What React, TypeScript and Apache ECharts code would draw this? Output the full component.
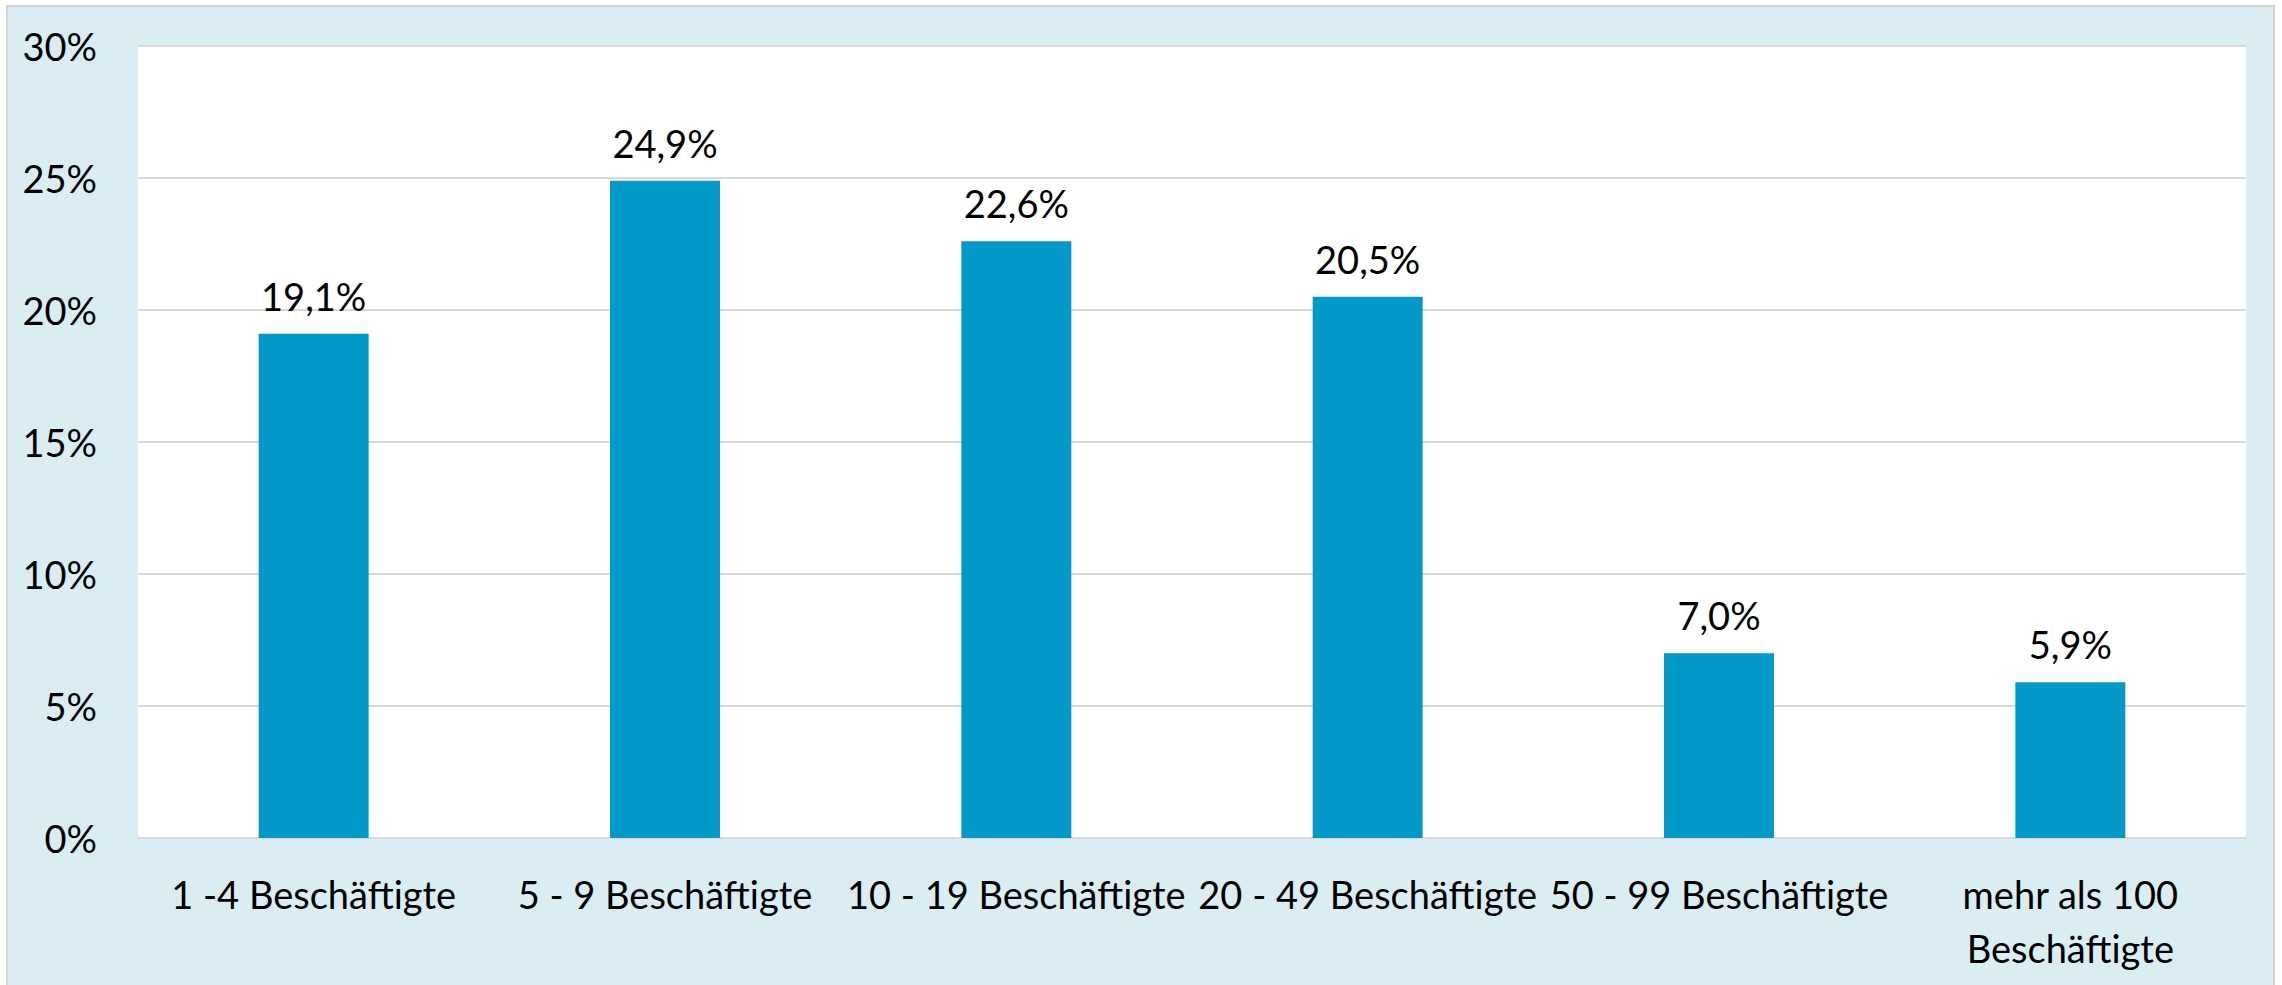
import React, { useEffect, useRef } from "react";
import * as echarts from "echarts";

const categories = [
  "1 -4 Beschäftigte",
  "5 - 9 Beschäftigte",
  "10 - 19 Beschäftigte",
  "20 - 49 Beschäftigte",
  "50 - 99 Beschäftigte",
  "mehr als 100 Beschäftigte",
];
const shares = [19.1, 24.9, 22.6, 20.5, 7.0, 5.9];
const yTicks = [0, 5, 10, 15, 20, 25, 30];

const FONT = "Lato";
const FS = 38;

export default function App() {
  const ref = useRef<HTMLDivElement>(null);
  useEffect(() => {
    if (!ref.current) return;
    const chart = echarts.init(ref.current, undefined, { renderer: "svg" });
    chart.setOption({
      animation: false,
      backgroundColor: "#ffffff",
      textStyle: { fontFamily: FONT },
      graphic: [
        {
          type: "rect",
          z: -10,
          silent: true,
          shape: { x: 7, y: 6, width: 2267, height: 1000 },
          style: { fill: "#DAEDF3", stroke: "#D4D4D4", lineWidth: 2 },
        },
      ],
      grid: {
        left: 138,
        right: 36,
        top: 46,
        bottom: 147,
        show: true,
        backgroundColor: "#ffffff",
        borderWidth: 0,
        z: 0,
      },
      xAxis: {
        type: "category",
        data: categories,
        axisLine: { show: true, lineStyle: { color: "#D9D9D9", width: 2 } },
        axisTick: { show: false },
        axisLabel: {
          interval: 0,
          color: "#000000",
          fontFamily: FONT,
          fontSize: FS,
          lineHeight: 54,
          margin: 29,
          formatter: (v: string) => v.replace("mehr als 100 ", "mehr als 100\n"),
        },
      },
      yAxis: {
        type: "value",
        min: yTicks[0],
        max: yTicks[yTicks.length - 1],
        interval: 5,
        axisLine: { show: false },
        axisTick: { show: false },
        splitLine: { show: true, lineStyle: { color: "#D9D9D9", width: 2 } },
        axisLabel: {
          color: "#000000",
          fontFamily: FONT,
          fontSize: FS,
          margin: 41,
          formatter: (v: number) => `${v}%`,
        },
      },
      series: [
        {
          type: "bar",
          data: shares,
          barWidth: "31.3%",
          itemStyle: { color: "#0399C8" },
          label: {
            show: true,
            position: "top",
            distance: 19,
            color: "#000000",
            fontFamily: FONT,
            fontSize: FS,
            formatter: (p: any) => `${p.value.toFixed(1).replace(".", ",")}%`,
          },
        },
      ],
    });
    return () => chart.dispose();
  }, []);
  return (
    <div
      ref={ref}
      style={{ position: "absolute", left: 0, top: 0, width: 2282, height: 985 }}
    />
  );
}
